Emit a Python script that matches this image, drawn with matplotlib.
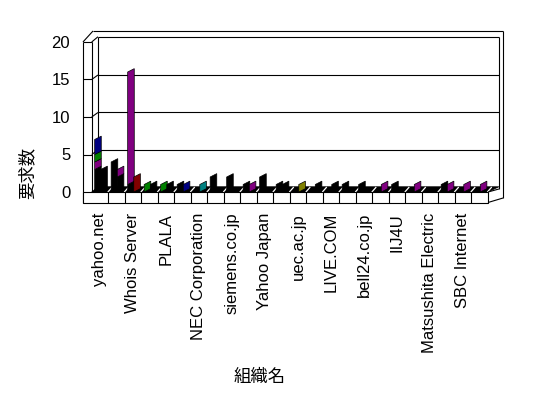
# Requests per organisation, drawn as an old-style pseudo 3D column chart

import matplotlib.pyplot as plt
import numpy as np
from matplotlib.patches import Polygon

plt.rcParams["font.family"] = ["Liberation Sans", "Noto Sans CJK JP"]

# Categories (only every other name is printed on the axis)
categories = [
    "yahoo.net", "", "Whois Server", "", "PLALA", "", "NEC Corporation", "",
    "siemens.co.jp", "", "Yahoo Japan", "", "uec.ac.jp", "", "LIVE.COM", "",
    "bell24.co.jp", "", "IIJ4U", "", "Matsushita Electric", "", "SBC Internet", "",
]
yticks = [0, 5, 10, 15, 20]

# Front column of each category, stacked bottom to top
left_black = [3, 4, 1, 0, 0, 1, 0, 2, 2, 1, 2, 1, 0, 0, 0, 1, 1, 0, 1, 0, 0, 1, 0, 0]
left_magenta = [1, 0, 15, 0, 0, 0, 0, 0, 0, 0, 0, 0, 0, 0, 0, 0, 0, 0, 0, 0, 0, 0, 0, 0]
left_green = [1, 0, 0, 1, 1, 0, 0, 0, 0, 0, 0, 0, 0, 0, 0, 0, 0, 0, 0, 0, 0, 0, 0, 0]
left_blue = [2, 0, 0, 0, 0, 0, 0, 0, 0, 0, 0, 0, 0, 0, 0, 0, 0, 0, 0, 0, 0, 0, 0, 0]

# Rear column of each category, stacked bottom to top
right_black = [3, 2, 0, 1, 1, 0, 0, 0, 0, 0, 0, 1, 0, 1, 1, 0, 0, 0, 0, 0, 0, 0, 0, 0]
right_magenta = [0, 1, 0, 0, 0, 0, 0, 0, 0, 1, 0, 0, 0, 0, 0, 0, 0, 1, 0, 1, 0, 1, 1, 1]
right_darkred = [0, 0, 2, 0, 0, 0, 0, 0, 0, 0, 0, 0, 0, 0, 0, 0, 0, 0, 0, 0, 0, 0, 0, 0]
right_blue = [0, 0, 0, 0, 0, 1, 0, 0, 0, 0, 0, 0, 0, 0, 0, 0, 0, 0, 0, 0, 0, 0, 0, 0]
right_teal = [0, 0, 0, 0, 0, 0, 1, 0, 0, 0, 0, 0, 0, 0, 0, 0, 0, 0, 0, 0, 0, 0, 0, 0]
right_olive = [0, 0, 0, 0, 0, 0, 0, 0, 0, 0, 0, 0, 1, 0, 0, 0, 0, 0, 0, 0, 0, 0, 0, 0]

n = len(categories)
W, H = 548, 398

fig = plt.figure(figsize=(W / 100, H / 100), dpi=100)
fig.patch.set_facecolor("white")

# Axes = front plane of the 3D box (pixels 91.7..488 wide, 0 at y=192, 20 at y=42)
ax = fig.add_axes([91.7 / W, (H - 192) / H, 396 / W, 150 / H])
ax.set_xlim(0, n)
ax.set_ylim(0, 20)
ax.set_facecolor("none")
for sp in ax.spines.values():
    sp.set_visible(False)

# depth offsets (data units) and outer edges of the box
DX, DY = 0.38, 0.7
XL = -0.53          # outer face of the left wall
YB = -1.4           # bottom of the front floor strip
XR = n + 0.02       # right end of the floor strip
lk = dict(color="k", lw=0.8, clip_on=False, solid_capstyle="butt")

# back wall and its grid lines
bx0, bx1 = DX, n + 0.68
for v in yticks[1:-1]:
    ax.plot([bx0, bx1], [v + DY - 0.1, v + DY - 0.1], zorder=1, **lk)
    ax.plot([XL, 0], [v, v], zorder=1, **lk)
    ax.plot([0, DX], [v, v + DY - 0.1], zorder=1, **lk)
ax.plot([bx0, bx1], [20 + DY, 20 + DY], zorder=1, **lk)
ax.plot([0.08, n + 0.93], [21.47, 21.47], zorder=1, **lk)
ax.plot([bx0, bx0], [DY, 20 + DY], zorder=1, **lk)
ax.plot([bx1, bx1], [0.4, 20 + DY], zorder=1, **lk)
ax.plot([n + 0.93, n + 0.93], [-0.8, 21.47], zorder=1, **lk)

# left wall
ax.plot([XL, XL], [YB, 20], zorder=1, **lk)
ax.plot([0, 0], [0, 20], zorder=1, **lk)
ax.plot([XL, 0], [20, 20], zorder=1, **lk)
ax.plot([XL, 0.08], [20, 21.47], zorder=1, **lk)
ax.plot([0, DX], [20, 20 + DY], zorder=1, **lk)

# dark floor with white category marks
floor = Polygon([(0, 0), (XR, 0), (bx1, DY), (DX, DY)], closed=True,
                facecolor="k", edgecolor="k", lw=0.5, clip_on=False, zorder=2)
ax.add_patch(floor)
for i in range(1, n + 1):
    ax.plot([i, i + 0.22], [0.05, 0.6], color="white", lw=0.9, clip_on=False, zorder=2)

# columns drawn as slanted parallelograms
BW, SL = 0.4, 0.45


def draw_stack(offset, series):
    base = np.zeros(n)
    for vals, color in series:
        vals = np.asarray(vals, dtype=float)
        for i in range(n):
            if vals[i] <= 0:
                continue
            x0 = i + offset
            b, t = base[i], base[i] + vals[i]
            ax.add_patch(Polygon(
                [(x0, b), (x0 + BW, b + SL), (x0 + BW, t + SL), (x0, t)],
                closed=True, facecolor=color, edgecolor="k", lw=0.5,
                clip_on=False, zorder=3,
            ))
        base += vals


draw_stack(0.18, [
    (left_black, "#000000"),
    (left_magenta, "#800080"),
    (left_green, "#008000"),
    (left_blue, "#000080"),
])
draw_stack(0.55, [
    (right_black, "#000000"),
    (right_magenta, "#800080"),
    (right_darkred, "#800000"),
    (right_blue, "#000080"),
    (right_teal, "#008080"),
    (right_olive, "#808000"),
])

# front floor strip
strip = Polygon([(XL, 0), (XR, 0), (XR, YB), (XL, YB)], closed=True,
                facecolor="white", edgecolor="k", lw=0.8, clip_on=False, zorder=4)
ax.add_patch(strip)
for i in range(1, n):
    ax.plot([i, i], [0, YB], zorder=4, **lk)
ax.plot([XR, n + 0.93], [YB, -0.8], zorder=4, **lk)
ax.plot([XR, bx1], [0, 0.4], zorder=4, **lk)

# ticks and labels
ax.set_yticks(yticks)
ax.set_yticklabels([str(v) for v in yticks], fontsize=12)
ax.set_xticks(np.arange(n) + 0.5)
ax.set_xticklabels(categories, rotation=90, fontsize=12, va="top")
ax.tick_params(axis="y", length=0, pad=15.5)
ax.tick_params(axis="x", length=0, pad=15)

fig.text(260 / W, 1 - 377 / H, "組織名", fontsize=12.5, ha="center", va="center")
fig.text(27 / W, 1 - 173 / H, "要求数", fontsize=12.5, rotation=90,
         ha="center", va="center")

fig.savefig("out.png", dpi=100)
